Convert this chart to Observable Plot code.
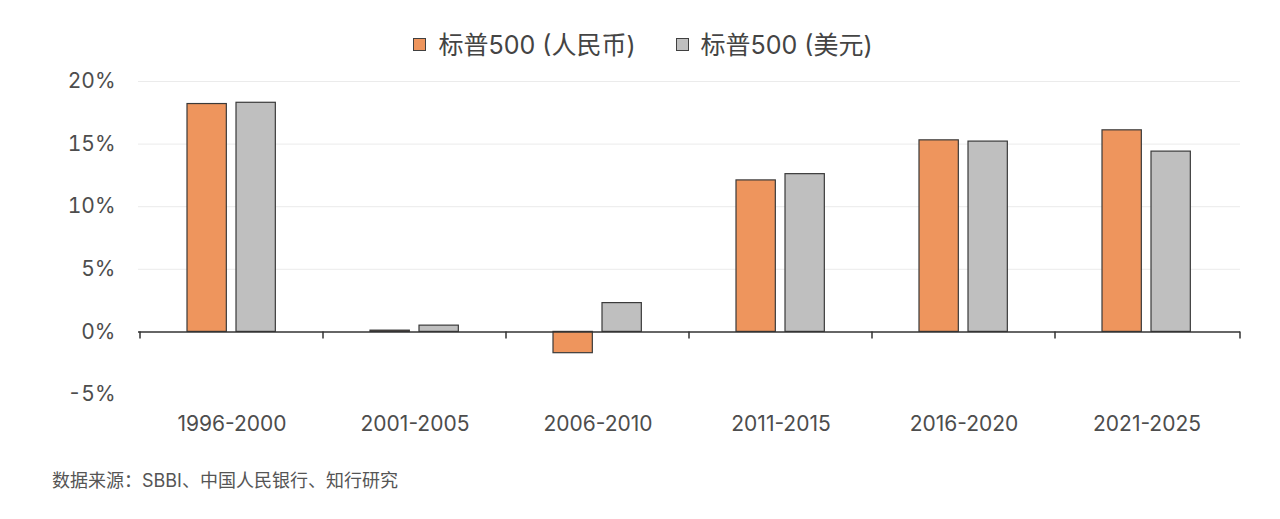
<!DOCTYPE html>
<html>
<head>
<meta charset="utf-8">
<script src="https://cdn.jsdelivr.net/npm/d3@7"></script>
<script src="https://cdn.jsdelivr.net/npm/@observablehq/plot@0.6"></script>
<style>
  body { margin: 0; background: #fff; font-family: "Inter", "Noto Sans CJK SC", sans-serif; }
  #legend { height: 60px; box-sizing: border-box; padding-top: 29px; padding-left: 6px; display: flex; justify-content: center; gap: 40px; font-size: 25px; color: #444; line-height: 26px; }
  .item { display: flex; align-items: center; gap: 12px; }
  .sw { width: 13px; height: 13px; border: 1px solid #404040; box-sizing: border-box; }
  #caption { margin: 17px 0 0 52px; font-size: 18px; color: #555; line-height: 20px; }
</style>
</head>
<body>
<div id="legend"></div>
<div id="chart"></div>
<div id="caption">数据来源：SBBI、中国人民银行、知行研究</div>
<script>
const periods = ["1996-2000", "2001-2005", "2006-2010", "2011-2015", "2016-2020", "2021-2025"];
const seriesNames = ["标普500 (人民币)", "标普500 (美元)"];
const rmbValues = [18.2, 0.1, -1.7, 12.1, 15.3, 16.1];
const usdValues = [18.3, 0.5, 2.3, 12.6, 15.2, 14.4];
const yTicks = [-5, 0, 5, 10, 15, 20];
const colors = ["#EE955D", "#BFBFBF"];

const rmb = periods.map((p, i) => ({period: p, series: seriesNames[0], value: rmbValues[i]}));
const usd = periods.map((p, i) => ({period: p, series: seriesNames[1], value: usdValues[i]}));

// legend
const legend = document.getElementById("legend");
seriesNames.forEach((s, i) => {
  const item = document.createElement("div");
  item.className = "item";
  const sw = document.createElement("div");
  sw.className = "sw";
  sw.style.background = colors[i];
  const t = document.createElement("span");
  t.textContent = s;
  item.append(sw, t);
  legend.append(item);
});

function boundaryTicks(index, scales, values, dimensions) {
  const g = d3.create("svg:g");
  const y0 = scales.y(0);
  const xs = periods.map(p => scales.x(p));
  xs.push(dimensions.width - dimensions.marginRight);
  g.selectAll("line").data(xs).join("line")
    .attr("x1", d => d).attr("x2", d => d)
    .attr("y1", y0).attr("y2", y0 + 7)
    .attr("stroke", "#333").attr("stroke-width", 1.5);
  return g.node();
}

const W = 1280, ML = 138, MR = 40;
const step = (W - ML - MR) / periods.length;

const chart = Plot.plot({
  width: W,
  height: 394,
  marginLeft: ML,
  marginRight: MR,
  marginTop: 21,
  marginBottom: 60,
  style: {fontFamily: "Inter, 'Noto Sans CJK SC', sans-serif", fontSize: "21px", color: "#4d4d4d", background: "transparent"},
  x: {domain: periods, padding: 0, axis: null},
  y: {domain: [-5, 20], axis: null},
  color: {domain: seriesNames, range: colors},
  marks: [
    Plot.gridY([5, 10, 15, 20], {stroke: "#ebebeb", strokeOpacity: 1, strokeWidth: 1}),
    Plot.axisY({ticks: yTicks, tickFormat: d => d + "%", tickSize: 0, tickPadding: 23, fontSize: 21, fill: "#4d4d4d", label: null}),
    Plot.axisX({tickSize: 0, tickPadding: 22, fontSize: 21, fill: "#4d4d4d", label: null}),
    Plot.barY(rmb, {x: "period", y: "value", fill: "series", stroke: "#3a3a3a", strokeWidth: 1.2,
      insetLeft: 47, insetRight: step - 87}),
    Plot.barY(usd, {x: "period", y: "value", fill: "series", stroke: "#3a3a3a", strokeWidth: 1.2,
      insetLeft: 96, insetRight: step - 136}),
    Plot.ruleY([0], {stroke: "#333", strokeWidth: 1.5}),
    boundaryTicks
  ]
});
document.getElementById("chart").append(chart);
</script>
</body>
</html>
